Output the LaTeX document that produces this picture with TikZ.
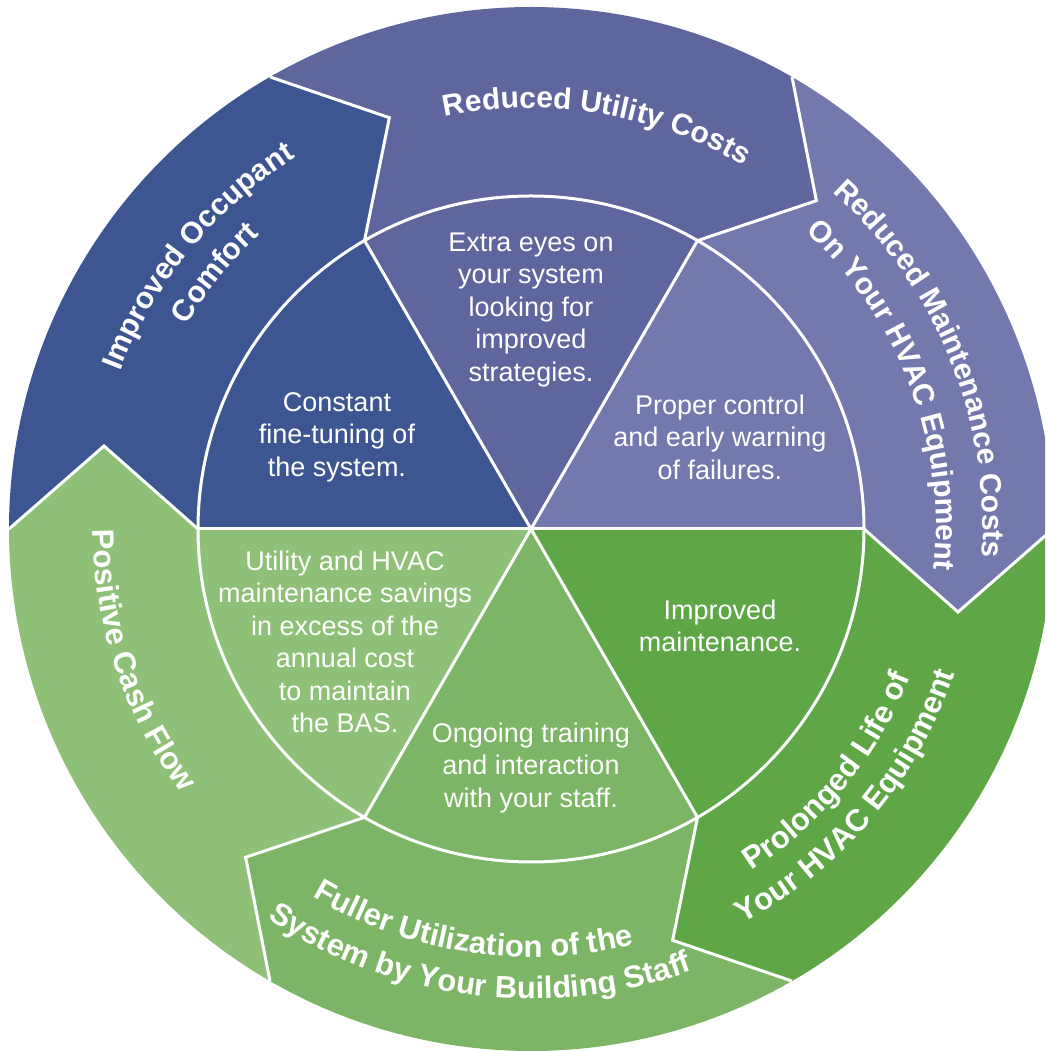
\documentclass[tikz,border=0pt]{standalone}
\usepackage{fontspec}
\setmainfont{Liberation Sans}
\usetikzlibrary{decorations.text}
\definecolor{cA}{HTML}{7479AD}
\definecolor{cB}{HTML}{5F659D}
\definecolor{cC}{HTML}{3D5591}
\definecolor{cD}{HTML}{8FC077}
\definecolor{cE}{HTML}{7DB566}
\definecolor{cF}{HTML}{5FA746}
\newcommand{\outfont}{\bfseries\fontsize{30}{36}\selectfont}
\newcommand{\outfontb}{\bfseries\fontsize{31}{37}\selectfont}
\newcommand{\infont}{\fontsize{27}{32.5}\selectfont}
\begin{document}
\begin{tikzpicture}[x=1pt,y=1pt,
  wl/.style={draw=white,line width=3pt},
  intext/.style={text=white,align=center,font=\infont,inner sep=0pt},
  otext/.style={decorate,decoration={text along path,text={|\outfont|#1},text align=center,text color=white}},
  itext/.style={decorate,decoration={text along path,text={|\outfontb|#1},text align=center,text color=white}}]
\useasboundingbox (0,0) rectangle (1045,1051);
\clip (0,0) rectangle (1045,1051);
\begin{scope}[shift={(531,522)}]
  \foreach \s/\c in {0/cA,60/cB,120/cC,180/cD,240/cE,300/cF}{
    \fill[\c] (0,0) -- (\s:333pt) -- ({\s-11}:435pt) -- (\s:522pt)
      arc[start angle=\s, end angle=\s+60, radius=522pt]
      -- ({\s+49}:435pt) -- ({\s+60}:333pt) -- cycle;
  }
  \draw[wl] (0,0) circle[radius=333pt];
  \foreach \s in {0,60,120,180,240,300}{
    \draw[wl] (0,0) -- (\s:333pt);
    \draw[wl] (\s:333pt) -- ({\s-11}:435pt) -- (\s:522pt);
  }
  % outer curved labels (letters facing outward)
  \path[otext={Reduced Utility Costs}] (110.7:421pt) arc[start angle=110.7, end angle=50.7, radius=421pt];
  \path[otext={Reduced Maintenance Costs}] (57.3:452pt) arc[start angle=57.3, end angle=-12.7, radius=452pt];
  \path[otext={On Your HVAC Equipment}] (54.75:405pt) arc[start angle=54.75, end angle=-13.25, radius=405pt];
  \path[otext={Improved Occupant}] (166.7:440pt) arc[start angle=166.7, end angle=114.7, radius=440pt];
  \path[otext={Comfort}] (157:400pt) arc[start angle=157, end angle=125, radius=400pt];
  % outer curved labels (letters facing the centre)
  \path[itext={Positive Cash Flow}] (172.6:438pt) arc[start angle=172.6, end angle=224.6, radius=438pt];
  \path[itext={Fuller Utilization of the}] (231.6:428pt) arc[start angle=231.6, end angle=291.6, radius=428pt];
  \path[itext={System by Your Building Staff}] (229:470pt) arc[start angle=229, end angle=297, radius=470pt];
  \path[itext={Prolonged Life of}] (295.3:407pt) arc[start angle=295.3, end angle=346.3, radius=407pt];
  \path[itext={Your HVAC Equipment}] (291.2:448pt) arc[start angle=291.2, end angle=348.2, radius=448pt];
\end{scope}
% inner labels
\node[intext] (const) at (337,614) {Constant\\fine-tuning of\\the system.};
\node[intext] (extra) at (531,741) {Extra eyes on\\your system\\looking for\\improved\\strategies.};
\node[intext] (proper) at (720,614) {Proper control\\and early warning\\of failures.};
\node[intext] (maint) at (720,425) {Improved\\maintenance.};
\node[intext] (train) at (531,283) {Ongoing training\\and interaction\\with your staff.};
\node[intext] (util) at (345,409) {Utility and HVAC\\maintenance savings\\in excess of the\\annual cost\\to maintain\\the BAS.};
\end{tikzpicture}
\end{document}
